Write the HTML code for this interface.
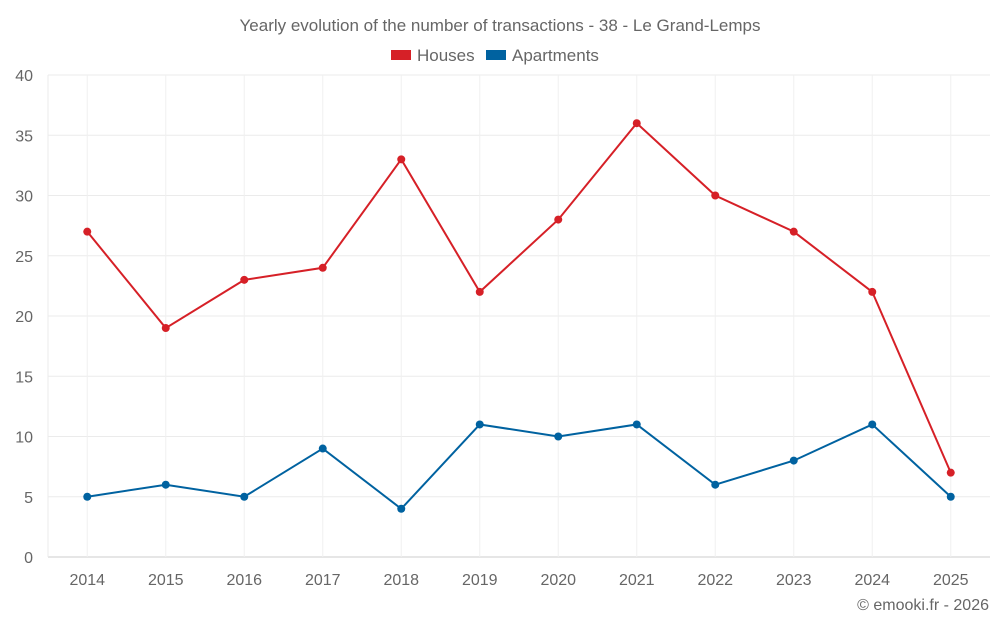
<!DOCTYPE html>
<html><head><meta charset="utf-8"><style>
body{margin:0;background:#fff;font-family:"Liberation Sans",sans-serif;}
svg text{font-family:"Liberation Sans",sans-serif;fill:#666;}
</style></head><body>
<svg id="chart" width="1000" height="625" xmlns="http://www.w3.org/2000/svg">
<text x="500" y="31" text-anchor="middle" font-size="17">Yearly evolution of the number of transactions - 38 - Le Grand-Lemps</text>
<g><rect x="391" y="50" width="20" height="10" fill="#d62027"/><text x="417" y="61" font-size="17">Houses</text></g>
<g><rect x="486" y="50" width="20" height="10" fill="#0062a0"/><text x="512" y="61" font-size="17">Apartments</text></g>
<g id="grid"></g><g id="axes"></g><g id="series"></g>
<text x="989" y="610" text-anchor="end" font-size="16">© emooki.fr - 2026</text>
</svg>
<script>
const years=[2014,2015,2016,2017,2018,2019,2020,2021,2022,2023,2024,2025];
const houses=[27,19,23,24,33,22,28,36,30,27,22,7];
const apartments=[5,6,5,9,4,11,10,11,6,8,11,5];
const yTicks=[0,5,10,15,20,25,30,35,40];
const NS="http://www.w3.org/2000/svg";
const L=48,R=990,T=75,B=557;
const step=(R-L)/years.length;
const x=i=>L+step*(i+0.5);
const y=v=>B-(v/40)*(B-T);
function mk(t,a,p){const e=document.createElementNS(NS,t);for(const k in a)e.setAttribute(k,a[k]);p.appendChild(e);return e;}
const grid=document.getElementById('grid'),axes=document.getElementById('axes'),ser=document.getElementById('series');
yTicks.forEach(v=>{
const l=mk('line',{x1:L,x2:R,y1:y(v),y2:y(v),stroke:v===0?'#ccc':'#ebebeb'},grid);


const t=mk('text',{x:33,y:y(v)+6,'text-anchor':'end','font-size':16},axes);t.textContent=v;


});
years.forEach((yr,i)=>{
const l=mk('line',{x1:x(i),x2:x(i),y1:T,y2:B,stroke:'#f0f0f0'},grid);


const t=mk('text',{x:x(i),y:585,'text-anchor':'middle','font-size':16},axes);t.textContent=yr;


});
const lv=mk('line',{x1:L,x2:L,y1:T,y2:B,stroke:'#ebebeb'},grid);
function series(vals,color,name){
const p=mk('polyline',{points:vals.map((v,i)=>x(i)+','+y(v)).join(' '),fill:'none',stroke:color,'stroke-width':2},ser);


vals.forEach((v,i)=>{const c=mk('circle',{cx:x(i),cy:y(v),r:4,fill:color},ser);

});
}
series(houses,'#d62027','houses');
series(apartments,'#0062a0','apartments');
</script>
</body></html>
